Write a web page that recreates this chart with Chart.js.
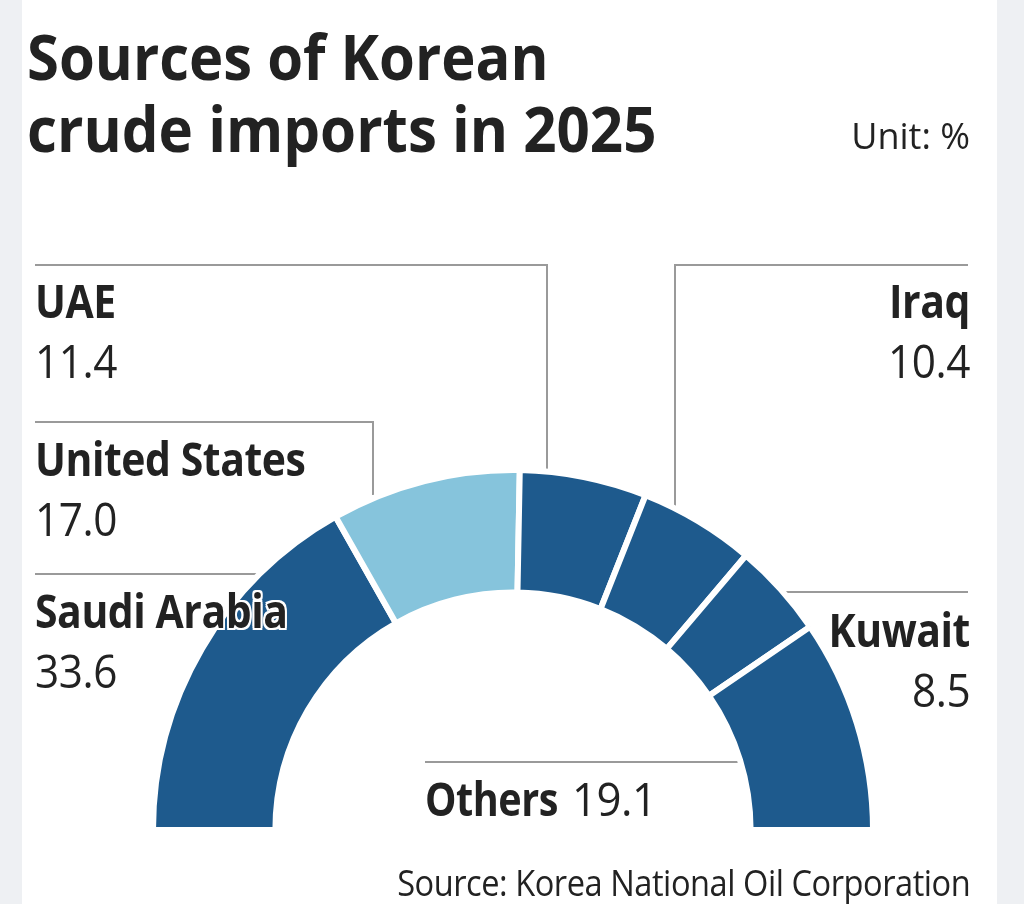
<!DOCTYPE html>
<html>
<head>
<meta charset="utf-8">
<script src="https://cdn.jsdelivr.net/npm/chart.js@4.4.1/dist/chart.umd.min.js"></script>
<style>
  html, body { margin: 0; padding: 0; }
  body { width: 1024px; height: 904px; background: #eef0f3; position: relative; overflow: hidden; font-family: "Open Sans", "Noto Sans", sans-serif; color: #222; }
  #paper { position: absolute; left: 22px; top: 0; width: 975px; height: 904px; background: #fff; }
  #wrap { position: absolute; left: 0; top: 0; width: 1024px; height: 904px; }
  .t { position: absolute; white-space: nowrap; line-height: 1; }
  .halo { text-shadow: 0 0 2px #fff, 2px 0 0 #fff, -2px 0 0 #fff, 0 2px 0 #fff, 0 -2px 0 #fff, 2px 2px 0 #fff, -2px -2px 0 #fff, 2px -2px 0 #fff, -2px 2px 0 #fff; }
</style>
</head>
<body>
<div id="paper"></div>
<div id="wrap"><canvas id="chart"></canvas></div>
<div id="labels"></div>
<script>
// data
const countries = ['Saudi Arabia', 'United States', 'UAE', 'Iraq', 'Kuwait', 'Others'];
const shares = [33.6, 17.0, 11.4, 10.4, 8.5, 19.1];
const sliceColors = ['#1e5a8d', '#86c4dc', '#1e5a8d', '#1e5a8d', '#1e5a8d', '#1e5a8d'];

// leader lines (page pixels)
const leaderLines = [
    [[35, 265], [547, 265], [547, 480]],   // UAE
    [[35, 422], [373, 422], [373, 495]],   // United States
    [[35, 574], [300, 574]],               // Saudi Arabia
    [[968, 265], [675, 265], [675, 520]],  // Iraq
    [[968, 592], [760, 592]],              // Kuwait
    [[425, 762], [760, 762]]               // Others
];

const leaderPlugin = {
    id: 'leaders',
    beforeDatasetsDraw(chart) {
        const ctx = chart.ctx;
        ctx.save();
        ctx.strokeStyle = '#9a9a9a';
        ctx.lineWidth = 2;
        leaderLines.forEach(function(pts) {
            ctx.beginPath();
            ctx.moveTo(pts[0][0], pts[0][1]);
            for (let i = 1; i < pts.length; i++) ctx.lineTo(pts[i][0], pts[i][1]);
            ctx.stroke();
        });
        ctx.restore();
    }
};

var ctx = document.getElementById('chart');
var myChart = new Chart(ctx, {
    type: 'doughnut',
    data: {
        labels: countries,
        datasets: [{
            data: shares,
            backgroundColor: sliceColors,
            borderColor: '#ffffff',
            borderWidth: 6,
            hoverOffset: 0
        }]
    },
    options: {
        responsive: true,
        maintainAspectRatio: false,
        animation: false,
        rotation: -90,
        circumference: 180,
        cutout: '66%',
        layout: { padding: { left: 147, top: 467, right: 145, bottom: 71 } },
        plugins: {
            legend: { display: false },
            tooltip: { enabled: false },
            title: { display: false }
        }
    },
    plugins: [leaderPlugin]
});

// text, placed by baseline
function put(text, x, baseline, size, weight, align, sx, halo) {
    const d = document.createElement('div');
    d.className = 't' + (halo ? ' halo' : '');
    d.textContent = text;
    d.style.fontSize = size + 'px';
    d.style.fontWeight = weight;
    d.style.top = (baseline - 0.888 * size) + 'px';
    if (align === 'right') {
        d.style.right = (1024 - x) + 'px';
        d.style.transformOrigin = 'right center';
    } else {
        d.style.left = x + 'px';
        d.style.transformOrigin = 'left center';
    }
    d.style.transform = 'scaleX(' + sx + ')';
    document.getElementById('labels').appendChild(d);
    return d;
}

put('Sources of Korean', 27, 80, 63, 700, 'left', 0.92);
put('crude imports in 2025', 27, 152, 63, 700, 'left', 0.925);
put('Unit: %', 970, 150, 36, 400, 'right', 1.0);

const labelPos = [
    [35, 628, 'left', true],
    [35, 476, 'left', false],
    [35, 318, 'left', false],
    [970, 318, 'right', false],
    [970, 647, 'right', false]
];
labelPos.forEach(function(p, i) {
    put(countries[i], p[0], p[1], 46, 700, p[2], 0.89, p[3]).style.letterSpacing = '-0.5px';
    put(shares[i].toFixed(1), p[0], p[1] + 60, 46, 400, p[2], 0.92, false).style.letterSpacing = '-0.5px';
});
put(countries[5], 425, 816, 46, 700, 'left', 0.86).style.letterSpacing = '-0.5px';
put(shares[5].toFixed(1), 572, 816, 46, 400, 'left', 0.95).style.letterSpacing = '-0.5px';

put('Source: Korea National Oil Corporation', 970, 897, 36, 400, 'right', 0.905).style.letterSpacing = '-0.5px';
</script>
</body>
</html>
